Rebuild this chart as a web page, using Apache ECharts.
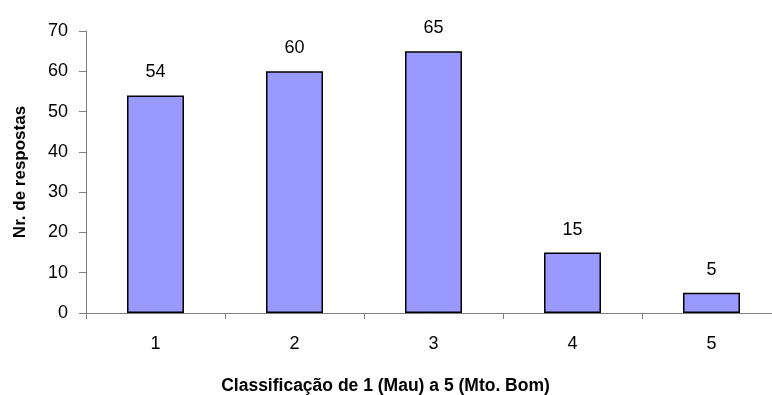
<!DOCTYPE html>
<html>
<head>
<meta charset="utf-8">
<script src="https://cdn.jsdelivr.net/npm/echarts@6/dist/echarts.min.js"></script>
<style>
  html, body { margin: 0; padding: 0; background: #fff; }
  #chart { width: 772px; height: 395px; }
</style>
</head>
<body>
<div id="chart"></div>
<script>
// Ratings 1 (bad) to 5 (very good) and number of answers for each
const categories = ['1', '2', '3', '4', '5'];
const respostas = [54, 60, 65, 15, 5];
const yTicks = { min: 0, max: 70, interval: 10 };

const chart = echarts.init(document.getElementById('chart'));
const font = 'Arial, "Liberation Sans", sans-serif';

chart.setOption({
  animation: false,
  grid: { left: 86, top: 31, width: 695, bottom: 82, containLabel: false, outerBoundsMode: 'none' },
  xAxis: {
    type: 'category',
    data: categories,
    name: 'Classificação de 1 (Mau) a 5 (Mto. Bom)',
    nameLocation: 'middle',
    nameGap: 64,
    // right padding pulls the centred title left, within the visible width
    nameTextStyle: { fontFamily: font, fontSize: 17.5, fontWeight: 'bold', color: '#000', padding: [0, 96, 0, 0] },
    axisLine: { lineStyle: { color: '#808080', width: 1 } },
    axisTick: { show: true, length: 6, lineStyle: { color: '#808080' } },
    axisLabel: { fontFamily: font, fontSize: 18, color: '#000', margin: 22 }
  },
  yAxis: {
    type: 'value',
    min: yTicks.min,
    max: yTicks.max,
    interval: yTicks.interval,
    name: 'Nr. de respostas',
    nameLocation: 'middle',
    nameGap: 57,
    nameTextStyle: { fontFamily: font, fontSize: 17, fontWeight: 'bold', color: '#000' },
    axisLine: { show: true, lineStyle: { color: '#808080', width: 1 } },
    axisTick: { show: true, length: 7, lineStyle: { color: '#808080' } },
    axisLabel: { fontFamily: font, fontSize: 18, color: '#000', margin: 18 },
    splitLine: { show: false }
  },
  series: [{
    type: 'bar',
    data: respostas,
    barWidth: 57,
    itemStyle: { color: '#9999FF', borderColor: '#000', borderWidth: 1.5 },
    label: {
      show: true,
      position: 'top',
      distance: 14,
      fontFamily: font,
      fontSize: 18,
      color: '#000'
    }
  }]
});
</script>
</body>
</html>
